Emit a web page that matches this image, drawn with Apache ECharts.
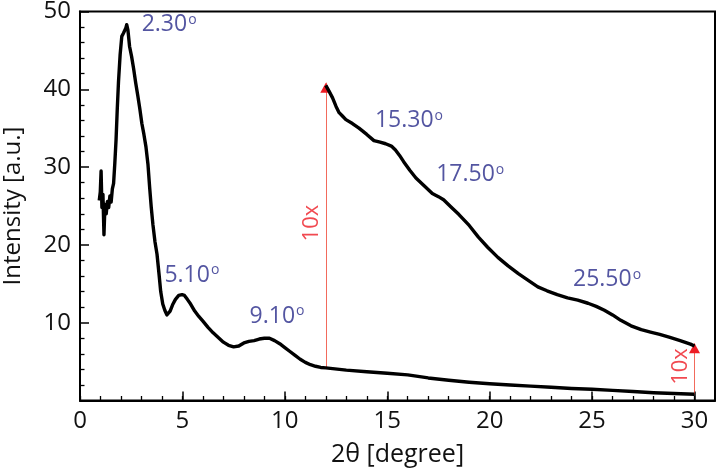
<!DOCTYPE html>
<html>
<head>
<meta charset="utf-8">
<script src="https://cdn.jsdelivr.net/npm/echarts@6/dist/echarts.min.js"></script>
<style>
  html, body { margin: 0; padding: 0; background: #fff; }
  #main { width: 720px; height: 472px; }
</style>
</head>
<body>
<div id="main"></div>
<script>
  // measured scan (full range)
  var scanAngle = [0.94, 0.99, 1.03, 1.07, 1.12, 1.17, 1.22, 1.28, 1.34, 1.40, 1.46, 1.52, 1.58, 1.64, 1.70, 1.76, 1.82, 1.88, 1.96, 2.04, 2.12, 2.18, 2.24, 2.28, 2.34, 2.42, 2.52, 2.62, 2.72, 2.82, 2.92, 3.02, 3.12, 3.22, 3.32, 3.40, 3.48, 3.56, 3.66, 3.76, 3.86, 3.94, 4.04, 4.14, 4.24, 4.30, 4.40, 4.52, 4.66, 4.82, 4.98, 5.10, 5.24, 5.40, 5.60, 5.80, 6.00, 6.25, 6.50, 6.75, 7.00, 7.25, 7.50, 7.75, 8.00, 8.25, 8.50, 8.75, 9.00, 9.25, 9.50, 9.75, 10.00, 10.25, 10.50, 10.75, 11.00, 11.25, 11.50, 11.75, 12, 13, 14, 15, 16, 17, 18, 19, 20, 21, 22, 23, 24, 25, 26, 27, 28, 29, 30];
  var scanIntensity = [25.7, 26.8, 29.5, 24.8, 26.5, 21.3, 25.2, 24.0, 25.6, 24.8, 26.3, 25.5, 27.2, 27.9, 30.5, 33.5, 37.5, 41.0, 44.5, 46.8, 47.2, 47.0, 47.9, 48.3, 47.6, 45.5, 44.2, 42.6, 40.8, 39.2, 37.5, 35.6, 34.2, 32.6, 30.3, 27.4, 24.8, 22.6, 20.4, 18.8, 16.2, 14.0, 12.4, 11.6, 11.0, 10.9, 11.5, 12.3, 13.0, 13.5, 13.6, 13.5, 13.0, 12.4, 11.5, 10.8, 10.2, 9.4, 8.7, 8.1, 7.5, 7.1, 6.9, 7.0, 7.4, 7.6, 7.7, 7.9, 8.0, 8.0, 7.7, 7.3, 6.8, 6.3, 5.8, 5.3, 4.9, 4.6, 4.4, 4.25, 4.2, 3.9, 3.7, 3.5, 3.3, 2.9, 2.6, 2.35, 2.15, 2.0, 1.85, 1.7, 1.55, 1.45, 1.3, 1.15, 1.0, 0.9, 0.8];

  // the 12-30 degree part shown magnified 10x
  var zoomAngle = [12.0, 12.15, 12.33, 12.5, 12.65, 12.8, 12.98, 13.3, 13.62, 14.0, 14.35, 14.65, 14.92, 15.2, 15.4, 15.6, 15.8, 16.1, 16.4, 16.8, 17.2, 17.5, 17.75, 18.1, 18.5, 19.0, 19.45, 19.9, 20.4, 20.9, 21.4, 21.9, 22.35, 22.8, 23.3, 23.8, 24.3, 24.8, 25.2, 25.6, 26.0, 26.4, 26.9, 27.4, 27.85, 28.3, 28.8, 29.3, 29.8, 30.0];
  var zoomIntensity = [40.5, 39.8, 38.9, 37.8, 37.0, 36.6, 36.1, 35.6, 35.0, 34.2, 33.4, 33.2, 33.0, 32.7, 32.2, 31.5, 30.7, 29.6, 28.6, 27.6, 26.6, 26.2, 25.8, 24.9, 23.9, 22.5, 21.0, 19.7, 18.4, 17.3, 16.3, 15.4, 14.6, 14.1, 13.6, 13.2, 12.9, 12.5, 12.1, 11.6, 11.0, 10.3, 9.6, 9.1, 8.8, 8.5, 8.1, 7.7, 7.25, 7.0];

  var peakText = ['2.30', '5.10', '9.10', '15.30', '17.50', '25.50'];
  var peakLabelAngle = [4.35, 5.46, 9.62, 16.06, 19.05, 25.73];
  var peakLabelIntensity = [48.3, 16.1, 10.8, 35.95, 29.0, 15.5];

  var gainAngle = [12, 30];
  var gainFrom = [4.2, 0.8];
  var gainTo = [40.85, 7.35];
  var gainLabelAngle = [11.32, 29.31];
  var gainLabelIntensity = [22.8, 4.37];

  var xMajor = [0, 5, 10, 15, 20, 25, 30];
  var xMinor = [0, 1, 2, 3, 4, 5, 6, 7, 8, 9, 10, 11, 12, 13, 14, 15, 16, 17, 18, 19, 20, 21, 22, 23, 24, 25, 26, 27, 28, 29, 30];

  function zip(a, b) {
    return a.map(function (v, i) { return [v, b[i]]; });
  }

  var font = 'Open Sans';
  var chart = echarts.init(document.getElementById('main'), null, { renderer: 'canvas' });

  var arrowLines = gainAngle.map(function (x, i) {
    return [{ coord: [x, gainFrom[i]] }, { coord: [x, gainTo[i]] }];
  });
  var arrowHeads = gainAngle.map(function (x, i) {
    return { coord: [x, gainTo[i]] };
  });

  var option = {
    animation: false,
    grid: {
      left: 80, right: 5, top: 11.5, bottom: 71.5,
      outerBoundsMode: 'none', containLabel: false,
      show: true, borderColor: '#000', borderWidth: 2
    },
    xAxis: [{
      type: 'value', min: 0, max: 31, position: 'bottom',
      axisLine: { lineStyle: { color: '#000', width: 2 } },
      axisTick: { inside: true, length: 4.5, customValues: xMinor, lineStyle: { color: '#000', width: 1.3 } },
      axisLabel: { customValues: xMajor, fontFamily: font, fontSize: 24, color: '#111', margin: 9 },
      splitLine: { show: false },
      name: '2θ [degree]', nameLocation: 'middle', nameGap: 42,
      nameTextStyle: { fontFamily: font, fontSize: 25, color: '#111' }
    }, {
      type: 'value', min: 0, max: 31, position: 'top', offset: -389,
      axisLine: { show: false },
      axisTick: { inside: false, length: 9, customValues: xMajor, lineStyle: { color: '#000', width: 1.5 } },
      axisLabel: { show: false },
      splitLine: { show: false }
    }],
    yAxis: {
      type: 'value', min: 0, max: 50, interval: 10,
      axisLine: { show: true, lineStyle: { color: '#000', width: 2 } },
      axisTick: { show: true, inside: true, length: 9, lineStyle: { color: '#000', width: 1.5 } },
      minorTick: { show: true, splitNumber: 5, length: 4.5, lineStyle: { color: '#000', width: 1.3 } },
      axisLabel: { showMinLabel: false, fontFamily: font, fontSize: 24, color: '#111', margin: 9 },
      splitLine: { show: false },
      name: 'Intensity [a.u.]', nameLocation: 'middle', nameGap: 55,
      nameTextStyle: { fontFamily: font, fontSize: 24, color: '#111' }
    },
    series: [{
      type: 'line', name: 'scan', data: zip(scanAngle, scanIntensity),
      showSymbol: false, z: 5,
      lineStyle: { color: '#000', width: 3.4, join: 'round' },
      markLine: {
        silent: true, symbol: ['none', 'none'],
        lineStyle: { color: '#f0503f', width: 1, type: 'solid', opacity: 0.85 },
        label: { show: false },
        data: arrowLines
      },
      markPoint: {
        silent: true, symbol: 'triangle', symbolSize: [11, 10], symbolOffset: [0, 5],
        itemStyle: { color: '#ed1c24' },
        label: { show: false },
        data: arrowHeads
      }
    }, {
      type: 'line', name: 'scan x10', data: zip(zoomAngle, zoomIntensity),
      showSymbol: false, z: 5,
      lineStyle: { color: '#000', width: 3.4, join: 'round' }
    }, {
      type: 'scatter', name: 'peaks', symbolSize: 0, z: 6,
      data: peakText.map(function (t, i) {
        return { value: [peakLabelAngle[i], peakLabelIntensity[i]], name: t };
      }),
      label: {
        show: true, position: 'inside',
        formatter: function (p) { return '{n|' + p.name + '}{d|o}'; },
        rich: {
          n: { fontFamily: font, fontSize: 23, color: '#282b8a' },
          d: { fontFamily: font, fontSize: 14, color: '#282b8a', padding: [0, 0, 10, 1] }
        }
      }
    }, {
      type: 'scatter', name: 'gain', symbolSize: 0, z: 6,
      data: zip(gainLabelAngle, gainLabelIntensity),
      label: {
        show: true, position: 'inside', rotate: 90,
        formatter: '10x',
        fontFamily: font, fontSize: 22, color: '#ed1c24'
      }
    }]
  };

  chart.setOption(option);
  window.addEventListener('resize', chart.resize);
</script>
</body>
</html>
